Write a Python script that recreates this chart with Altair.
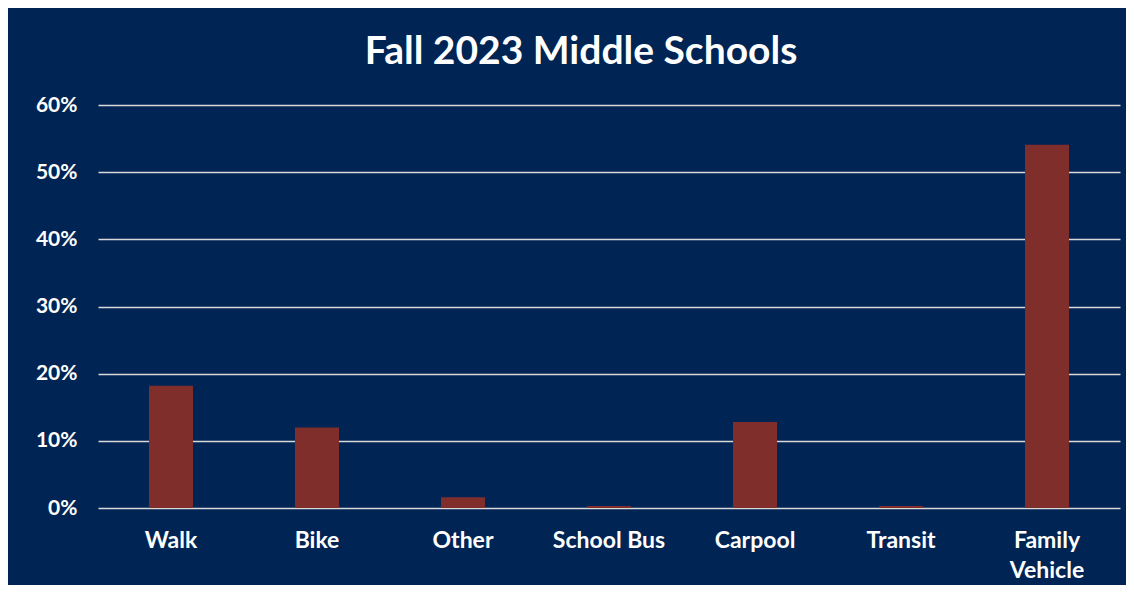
import altair as alt
import pandas as pd

categories = ["Walk", "Bike", "Other", "School Bus", "Carpool", "Transit", "Family Vehicle"]
values = [0.182, 0.120, 0.016, 0.003, 0.128, 0.003, 0.541]

df = pd.DataFrame({"mode": categories, "share": values})

NAVY = "#002453"
BAR = "#7F2E2C"
FONT = "Lato"

chart = alt.Chart(df).mark_bar(color=BAR, size=44).encode(
    x=alt.X("mode:N", sort=categories, title=None,
            scale=alt.Scale(paddingInner=0.0, paddingOuter=0.0),
            axis=alt.Axis(labelAngle=0, ticks=False, domain=False, labelPadding=21,
                          labelFontSize=23, labelFont=FONT, labelFontWeight="bold",
                          labelColor="white", labelLineHeight=30, labelBaseline="top",
                          labelExpr="datum.label == 'Family Vehicle' ? ['Family', 'Vehicle'] : datum.label")),
    y=alt.Y("share:Q", title=None,
            scale=alt.Scale(domain=[0, 0.6]),
            axis=alt.Axis(format=".0%", values=[0, 0.1, 0.2, 0.3, 0.4, 0.5, 0.6],
                          ticks=False, domain=False, labelPadding=21,
                          labelFontSize=21, labelFont=FONT, labelFontWeight="bold",
                          labelColor="white", gridColor="#d9d9d9", gridWidth=1.6,
                          gridOpacity=1)),
).properties(
    width=1022, height=403,
    title=alt.TitleParams("Fall 2023 Middle Schools", font=FONT, fontSize=39,
                          fontWeight="bold", color="white", anchor="middle",
                          dx=-28, offset=22),
    autosize=alt.AutoSizeParams(type="none"),
    padding={"left": 90, "top": 97, "right": 6, "bottom": 77},
    background=NAVY,
).configure_view(stroke=None, fill=NAVY)

chart.save("out.html", embed_options={"renderer": "svg", "actions": False})
